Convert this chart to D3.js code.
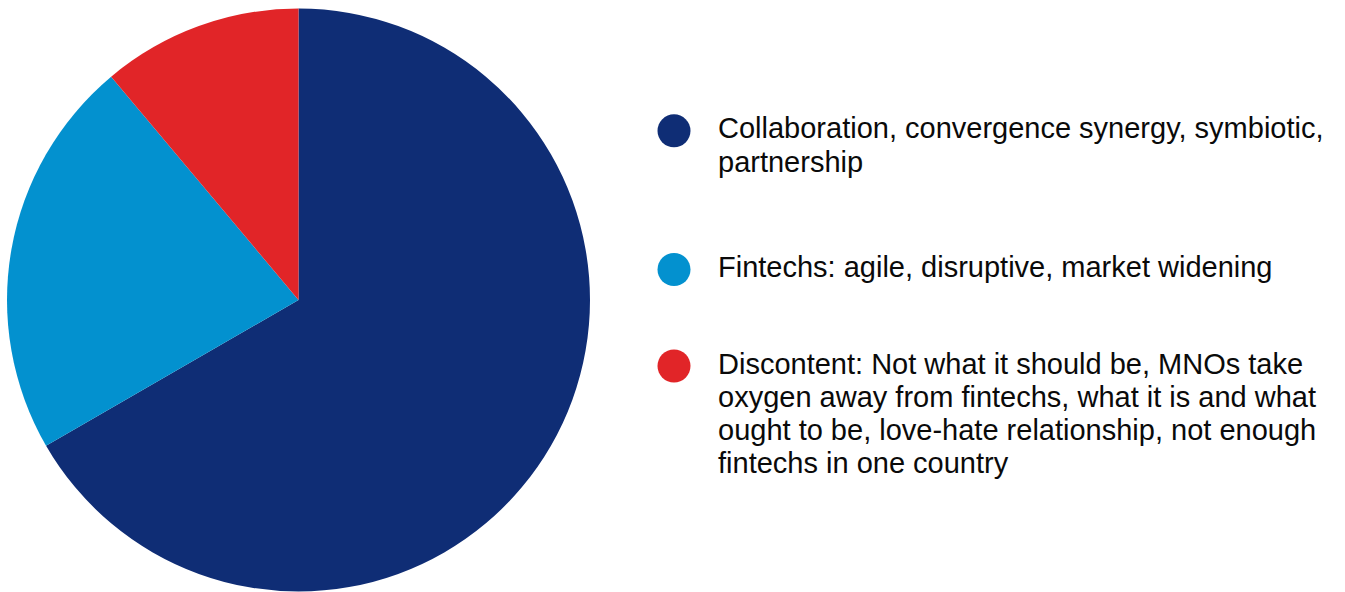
<!DOCTYPE html>
<html>
<head>
<meta charset="utf-8">
<script src="https://cdn.jsdelivr.net/npm/d3@7"></script>
<style>
  html, body { margin: 0; padding: 0; background: #ffffff; }
  svg { display: block; }
</style>
</head>
<body>
<svg id="chart" width="1345" height="592"></svg>
<script>
// Share of responses per theme
const categories = ["Collaboration", "Fintechs", "Discontent"];
const values = [6, 2, 1];
const colors = ["#0f2d75", "#0391cf", "#e12528"];
// Legend wording, one entry per line as it wraps
const legendLines = [
  ["Collaboration, convergence synergy, symbiotic,", "partnership"],
  ["Fintechs: agile, disruptive, market widening"],
  ["Discontent: Not what it should be, MNOs take", "oxygen away from fintechs, what it is and what", "ought to be, love-hate relationship, not enough", "fintechs in one country"]
];

const svg = d3.select("#chart");
const cx = 298.5, cy = 300, radius = 291.5;

const pie = d3.pie().sort(null).value(d => d.value);
const arc = d3.arc().innerRadius(0).outerRadius(radius);
const data = categories.map((c, i) => ({ name: c, value: values[i], color: colors[i] }));

svg.append("g")
  .attr("transform", `translate(${cx},${cy})`)
  .selectAll("path")
  .data(pie(data))
  .join("path")
  .attr("d", arc)
  .attr("fill", d => d.data.color);

// Legend: a dot followed by wrapped text for each slice
const legendX = 674, textX = 718, lineH = 33.3;
const firstBaselines = [138.3, 277, 373.5];
const legend = svg.append("g");
data.forEach((d, i) => {
  const g = legend.append("g");
  g.append("circle")
    .attr("cx", legendX)
    .attr("cy", firstBaselines[i] - 7.5)
    .attr("r", 16.5)
    .attr("fill", d.color);
  const t = g.append("text")
    .attr("x", textX)
    .attr("y", firstBaselines[i])
    .attr("font-family", "'Liberation Sans', Arial, sans-serif")
    .attr("font-size", 29)
    .attr("fill", "#0a0a0a");
  legendLines[i].forEach((line, j) => {
    t.append("tspan")
      .attr("x", textX)
      .attr("y", firstBaselines[i] + j * lineH)
      .text(line);
  });
});
</script>
</body>
</html>
